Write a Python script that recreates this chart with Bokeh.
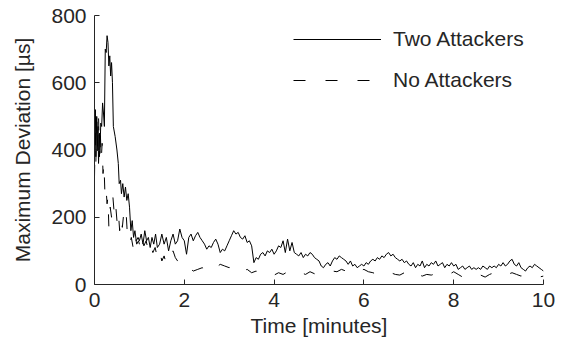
from bokeh.plotting import figure
from bokeh.models import Range1d, FixedTicker, Legend, LegendItem
from bokeh.embed import file_html
from bokeh.resources import INLINE

# Two Attackers (solid): time [minutes], maximum deviation [us]
two_t = [0.00, 0.02, 0.03, 0.05, 0.06, 0.08, 0.09, 0.11, 0.12, 0.14, 0.16, 0.18, 0.20, 0.22,
         0.24, 0.26, 0.28, 0.30, 0.32, 0.34, 0.36, 0.38, 0.40, 0.42, 0.46, 0.50, 0.53, 0.55,
         0.58, 0.60, 0.63, 0.66, 0.69, 0.72, 0.75, 0.78, 0.81, 0.84, 0.87, 0.90, 0.93, 0.97,
         1.00, 1.04, 1.08, 1.12, 1.16, 1.20, 1.24, 1.28, 1.32, 1.36, 1.40, 1.45, 1.50, 1.55,
         1.60, 1.65, 1.70, 1.75, 1.80, 1.85, 1.90, 1.95, 2.00, 2.05, 2.10, 2.15, 2.20, 2.25,
         2.30, 2.35, 2.40, 2.45, 2.50, 2.55, 2.60, 2.65, 2.70, 2.75, 2.80, 2.85, 2.90, 2.95,
         3.00, 3.05, 3.10, 3.15, 3.20, 3.25, 3.30, 3.35, 3.40, 3.45, 3.50, 3.55, 3.60, 3.65,
         3.70, 3.75, 3.80, 3.85, 3.90, 3.95, 4.00, 4.05, 4.10, 4.15, 4.20, 4.25, 4.30, 4.35,
         4.40, 4.45, 4.50, 4.55, 4.60, 4.65, 4.70, 4.75, 4.80, 4.85, 4.90, 4.95, 5.00, 5.05,
         5.10, 5.15, 5.20, 5.25, 5.30, 5.35, 5.40, 5.45, 5.50, 5.55, 5.60, 5.65, 5.70, 5.75,
         5.80, 5.85, 5.90, 5.95, 6.00, 6.05, 6.10, 6.15, 6.20, 6.25, 6.30, 6.35, 6.40, 6.45,
         6.50, 6.55, 6.60, 6.65, 6.70, 6.75, 6.80, 6.85, 6.90, 6.95, 7.00, 7.05, 7.10, 7.15,
         7.20, 7.25, 7.30, 7.35, 7.40, 7.45, 7.50, 7.55, 7.60, 7.65, 7.70, 7.75, 7.80, 7.85,
         7.90, 7.95, 8.00, 8.05, 8.10, 8.15, 8.20, 8.25, 8.30, 8.35, 8.40, 8.45, 8.50, 8.55,
         8.60, 8.65, 8.70, 8.75, 8.80, 8.85, 8.90, 8.95, 9.00, 9.05, 9.10, 9.15, 9.20, 9.25,
         9.30, 9.35, 9.40, 9.45, 9.50, 9.55, 9.60, 9.65, 9.70, 9.75, 9.80, 9.85, 9.90, 9.95,
         10.00]
two_v = [420, 520, 380, 500, 400, 470, 360, 450, 390, 480, 470, 540, 510, 470,
         700, 690, 740, 720, 650, 680, 620, 660, 600, 470, 440, 400, 360, 300,
         310, 270, 300, 260, 290, 250, 270, 230, 160, 190, 140, 160, 130, 140,
         130, 150, 120, 160, 130, 140, 110, 140, 120, 150, 110, 120, 150, 120,
         140, 100, 130, 150, 120, 130, 165, 140, 130, 90, 140, 150, 130, 145,
         155, 140, 130, 120, 105, 115, 110, 125, 135, 120, 95, 105, 100, 115,
         130, 145, 160, 150, 155, 140, 135, 145, 125, 130, 115, 65, 80, 75,
         90, 95, 85, 100, 95, 105, 90, 100, 115, 110, 130, 95, 135, 100,
         125, 95, 90, 85, 95, 80, 90, 85, 95, 90, 80, 75, 70, 55,
         50, 60, 65, 55, 70, 80, 75, 85, 80, 75, 70, 60, 70, 55,
         60, 50, 55, 60, 55, 65, 60, 70, 75, 70, 80, 75, 85, 80,
         90, 95, 85, 90, 80, 75, 70, 75, 65, 70, 60, 55, 65, 50,
         60, 55, 70, 50, 60, 55, 65, 60, 70, 55, 60, 65, 50, 60,
         55, 65, 55, 60, 45, 50, 55, 45, 50, 55, 45, 50, 45, 50,
         45, 55, 50, 45, 55, 50, 55, 50, 60, 55, 65, 55, 60, 70,
         75, 60, 55, 65, 50, 45, 40, 50, 55, 50, 60, 55, 50, 45,
         40]

# No Attackers (dashed)
none_t = [0.00, 0.02, 0.03, 0.05, 0.07, 0.09, 0.11, 0.13, 0.15, 0.17, 0.19, 0.21, 0.23, 0.25,
          0.28, 0.30, 0.32, 0.35, 0.38, 0.41, 0.44, 0.47, 0.50, 0.53, 0.56, 0.59, 0.62, 0.65,
          0.68, 0.71, 0.74, 0.78, 0.82, 0.86, 0.90, 0.94, 0.98, 1.02, 1.06, 1.10, 1.15, 1.20,
          1.25, 1.30, 1.35, 1.40, 1.45, 1.50, 1.55, 1.60, 1.65, 1.70, 1.75, 1.80, 1.85, 1.90,
          2.00, 2.10, 2.20, 2.30, 2.40, 2.50, 2.60, 2.70, 2.80, 2.90, 3.00, 3.10, 3.20, 3.30,
          3.40, 3.50, 3.60, 3.70, 3.80, 3.90, 4.00, 4.10, 4.20, 4.30, 4.40, 4.50, 4.60, 4.70,
          4.80, 4.90, 5.00, 5.10, 5.20, 5.30, 5.40, 5.50, 5.60, 5.70, 5.80, 5.90, 6.00, 6.10,
          6.20, 6.30, 6.40, 6.50, 6.60, 6.70, 6.80, 6.90, 7.00, 7.10, 7.20, 7.30, 7.40, 7.50,
          7.60, 7.70, 7.80, 7.90, 8.00, 8.10, 8.20, 8.30, 8.40, 8.50, 8.60, 8.70, 8.80, 8.90,
          9.00, 9.10, 9.20, 9.30, 9.40, 9.50, 9.60, 9.70, 9.80, 9.90, 10.00]
none_v = [320, 480, 360, 520, 400, 500, 380, 450, 370, 420, 330, 360, 280, 300,
          240, 260, 170, 230, 200, 260, 210, 240, 190, 220, 160, 200, 170, 210,
          180, 200, 130, 120, 140, 110, 150, 120, 130, 110, 140, 115, 130, 100,
          120, 95, 110, 80, 100, 70, 85, 60, 75, 95, 100, 80, 70, 55,
          45, 50, 40, 45, 50, 40, 55, 50, 60, 55, 50, 60, 50, 40,
          45, 35, 40, 30, 35, 30, 28, 35, 30, 38, 32, 28, 35, 30,
          38, 32, 28, 30, 35, 40, 38, 45, 40, 50, 45, 40, 45, 38,
          35, 30, 35, 40, 35, 30, 28, 35, 45, 40, 30, 25, 30, 28,
          32, 30, 35, 30, 38, 30, 22, 25, 30, 25, 28, 22, 30, 35,
          28, 25, 30, 35, 30, 25, 30, 28, 25, 22, 25]

x_ticks = [0, 2, 4, 6, 8, 10]
y_ticks = [0, 200, 400, 600, 800]

FONT = "Liberation Sans"
TXT = "#262626"
FS = "21px"

p = figure(width=556, height=345, output_backend="svg", toolbar_location=None,
           x_range=Range1d(0, 10), y_range=Range1d(0, 800),
           min_border_left=94, min_border_right=13, min_border_top=15, min_border_bottom=61)
p.outline_line_color = None
p.grid.visible = False
p.background_fill_color = "white"

r1 = p.line(two_t, two_v, line_color="black", line_width=1)
r2 = p.line(none_t, none_v, line_color="black", line_width=1, line_dash="12 20")

for ax in (p.xaxis[0], p.yaxis[0]):
    ax.axis_line_color = TXT
    ax.major_tick_line_color = TXT
    ax.major_tick_in = 5
    ax.major_tick_out = 0
    ax.minor_tick_line_color = None
    ax.major_label_text_font = FONT
    ax.major_label_text_font_size = FS
    ax.major_label_text_color = TXT
    ax.axis_label_text_font = FONT
    ax.axis_label_text_font_size = FS
    ax.axis_label_text_color = TXT
    ax.axis_label_text_font_style = "normal"

p.xaxis.ticker = FixedTicker(ticks=x_ticks)
p.yaxis.ticker = FixedTicker(ticks=y_ticks)
p.xaxis.axis_label = "Time [minutes]"
p.yaxis.axis_label = "Maximum Deviation [\u00b5s]"
p.xaxis.major_label_standoff = 8
p.xaxis.axis_label_standoff = 4
p.yaxis.major_label_standoff = 8
p.yaxis.axis_label_standoff = 14

legend = Legend(items=[LegendItem(label="Two Attackers", renderers=[r1]),
                       LegendItem(label="No Attackers", renderers=[r2])],
                location=(199, 192), padding=0, margin=0,
                border_line_color=None, background_fill_alpha=0,
                glyph_width=88, glyph_height=24, label_height=24, spacing=17,
                label_standoff=12, label_text_font=FONT, label_text_font_size=FS,
                label_text_color=TXT)
p.add_layout(legend)

open("out.html", "w").write(file_html(p, INLINE))
